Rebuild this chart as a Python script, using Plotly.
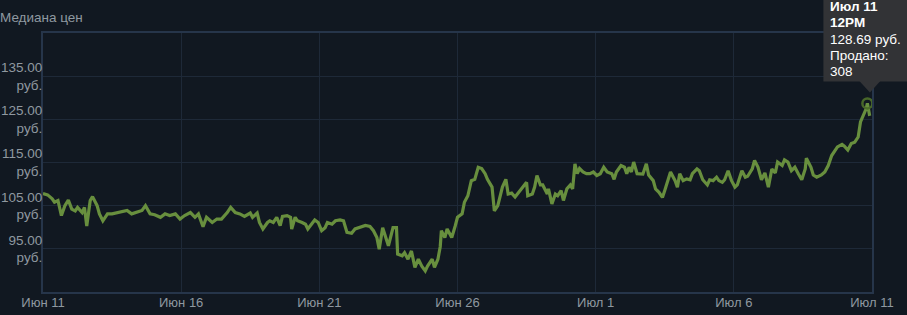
import pandas as pd
import plotly.graph_objects as go

# ---------------- data ----------------
start_time = pd.Timestamp("2023-06-11 16:00")
hours = [0, 2, 4, 8, 10, 13, 16, 19, 22, 25, 28, 30, 34, 36, 38, 41, 43, 47, 49, 52,
         56, 60, 64, 69, 73, 77, 82, 86, 89, 93, 97, 102, 106, 110, 115, 119, 123, 128, 132, 135,
         139, 142, 147, 151, 155, 160, 163, 167, 171, 175, 180, 182, 186, 188, 191, 195, 197, 200, 203, 206,
         208, 212, 215, 216, 219, 221, 225, 228, 230, 234, 236, 239, 242, 245, 247, 251, 254, 258, 261, 264,
         268, 271, 275, 280, 284, 287, 290, 292, 295, 298, 300, 304, 307, 308, 312, 314, 317, 320, 323, 326,
         329, 332, 334, 338, 340, 343, 345, 346, 349, 351, 355, 358, 360, 364, 366, 369, 372, 375, 378, 381,
         384, 386, 390, 392, 395, 399, 402, 404, 407, 410, 412, 416, 420, 421, 425, 427, 429, 432, 434, 438,
         439, 442, 445, 447, 450, 452, 455, 458, 460, 462, 464, 466, 469, 472, 475, 478, 481, 484, 487, 490,
         494, 496, 498, 502, 505, 507, 509, 511, 513, 516, 518, 521, 524, 526, 530, 532, 535, 538, 540, 544,
         545, 549, 551, 553, 556, 559, 562, 564, 568, 570, 573, 577, 579, 582, 585, 587, 590, 592, 595, 598,
         601, 603, 607, 610, 612, 616, 618, 621, 624, 627, 630, 633, 636, 638, 642, 644, 647, 650, 653, 656,
         659, 662, 663, 667, 669, 672, 676, 679, 682, 685, 688, 690, 694, 696, 699, 702, 705, 708, 710, 712,
         715, 716, 718]
prices = [107.8, 107.7, 107.5, 106.6, 105.8, 106.2, 102.7, 105.0, 106.3, 104.2, 103.8, 104.6, 103.4, 104.6, 100.3, 106.2, 107.1, 105.0, 103.1, 101.5,
          103.1, 103.1, 103.4, 103.6, 103.9, 103.1, 103.6, 103.9, 105.0, 103.1, 102.9, 102.3, 103.1, 102.7, 103.1, 101.9, 102.7, 103.4, 102.3, 103.1,
          100.1, 102.3, 101.1, 101.9, 101.9, 103.4, 104.6, 103.4, 103.1, 102.5, 103.3, 102.3, 103.3, 101.1, 99.6, 101.1, 101.5, 101.1, 102.3, 100.4,
          102.5, 102.7, 102.3, 99.6, 102.3, 101.5, 101.1, 100.7, 99.6, 101.1, 101.7, 101.1, 99.2, 99.9, 101.1, 100.7, 101.5, 101.7, 101.5, 98.8,
          98.6, 99.6, 99.9, 100.4, 100.2, 99.2, 97.6, 94.9, 99.9, 97.6, 95.7, 99.9, 99.9, 93.8, 93.4, 94.1, 92.6, 94.5, 90.7, 92.6,
          91.0, 89.9, 91.0, 92.6, 90.7, 92.6, 95.5, 99.2, 97.6, 99.6, 97.6, 100.3, 102.3, 103.1, 105.8, 107.3, 110.8, 111.1, 113.9, 113.6,
          112.4, 111.1, 109.3, 103.8, 105.0, 109.3, 111.1, 107.7, 107.9, 107.0, 107.7, 109.3, 110.4, 107.3, 107.7, 109.3, 112.0, 109.8, 109.8, 107.7,
          108.9, 105.4, 107.7, 107.3, 108.5, 106.2, 108.9, 109.8, 108.9, 114.7, 112.4, 113.6, 112.8, 112.4, 112.4, 112.8, 112.0, 112.4, 113.9, 112.8,
          112.4, 111.1, 112.8, 114.3, 113.9, 112.4, 113.9, 112.8, 115.1, 112.4, 112.4, 112.3, 114.7, 112.1, 110.8, 108.9, 108.1, 106.9, 108.5, 111.6,
          112.8, 110.8, 109.3, 112.4, 110.8, 111.2, 111.0, 112.4, 113.5, 113.1, 111.0, 109.8, 111.0, 110.8, 111.6, 110.8, 110.4, 111.0, 113.1, 110.8,
          109.3, 109.8, 113.1, 111.6, 111.8, 113.5, 115.5, 113.9, 111.0, 112.6, 109.3, 113.5, 112.6, 115.1, 114.3, 115.6, 115.1, 113.1, 113.9, 112.4,
          111.0, 113.5, 116.0, 113.9, 112.1, 111.6, 112.1, 112.8, 114.3, 116.6, 117.8, 118.6, 119.2, 118.8, 117.9, 119.4, 119.7, 120.9, 124.4, 125.6,
          127.5, 128.69, 125.8]
assert len(hours) == len(prices)

x_tick_labels = ["Июн 11", "Июн 16", "Июн 21", "Июн 26", "Июл 1", "Июл 6", "Июл 11"]
y_tick_values = [85, 95, 105, 115, 125, 135, 145]
y_tick_labels = ["", "95.00<br>руб.", "105.00<br>руб.", "115.00<br>руб.", "125.00<br>руб.", "135.00<br>руб.", ""]

hover_hour = 716
hover_price = 128.69
hover_sold = 308
hover_lines = ["<b>Июл 11</b>", "<b>12PM</b>", "128.69 руб.", "Продано:", str(hover_sold)]

chart_title = "Медиана цен"

# ---------------- derived ----------------
times = [start_time + pd.Timedelta(hours=h) for h in hours]
x_start = start_time
x_end = start_time + pd.Timedelta(days=30)
tick_vals = [start_time + pd.Timedelta(days=5 * i) for i in range(len(x_tick_labels))]
hover_time = start_time + pd.Timedelta(hours=hover_hour)
y_range = [85, 145]

BG = "#111821"
GRID = "#1e2938"
BORDER = "#26354a"
TXT = "#8f98a0"
FONT = "Arial, 'Liberation Sans', sans-serif"
LINE = "#688f3e"

fig = go.Figure()
fig.add_trace(go.Scatter(x=times, y=prices, mode="lines",
                         line=dict(color=LINE, width=3.2), hoverinfo="skip"))
fig.add_trace(go.Scatter(x=[hover_time], y=[hover_price], mode="markers",
                         marker=dict(symbol="circle-open", size=10, color="rgba(76,108,42,0.95)",
                                     line=dict(color="rgba(76,108,42,0.95)", width=2.5)),
                         hoverinfo="skip"))

fig.update_layout(
    width=907, height=315,
    margin=dict(l=43, r=35, t=33, b=23, autoexpand=False),
    paper_bgcolor=BG, plot_bgcolor=BG,
    showlegend=False, hovermode=False,
    font=dict(family=FONT, color=TXT, size=13),
)
fig.update_xaxes(type="date", range=[x_start, x_end], tickmode="array",
                 tickvals=tick_vals, ticktext=x_tick_labels, automargin=False,
                 showgrid=True, gridcolor=GRID, gridwidth=1,
                 showline=True, linecolor=BORDER, linewidth=2, mirror=True,
                 zeroline=False, ticks="", ticklabelstandoff=-3,
                 tickfont=dict(size=13, color=TXT))
fig.update_yaxes(range=y_range, tickmode="array", tickvals=y_tick_values,
                 ticktext=y_tick_labels, automargin=False,
                 showgrid=True, gridcolor=GRID, gridwidth=1,
                 showline=True, linecolor=BORDER, linewidth=2, mirror=True,
                 zeroline=False, ticks="", ticklabelstandoff=-4,
                 tickfont=dict(size=13.5, color=TXT))

# title
fig.add_annotation(xref="paper", yref="paper", x=0, y=1, xanchor="left", yanchor="middle",
                   xshift=-45, yshift=16, text=chart_title, showarrow=False,
                   font=dict(size=13.5, color=TXT, family=FONT))

# tooltip box & pointer (pixel-sized, anchored at the hovered point)
span = (x_end - x_start).total_seconds()
px = (hover_time - x_start).total_seconds() / span
py = (hover_price - y_range[0]) / (y_range[1] - y_range[0])
TIP = "#323336"
fig.add_shape(type="rect", xref="paper", yref="paper", xsizemode="pixel", ysizemode="pixel",
              xanchor=px, yanchor=py, x0=-44, x1=70, y0=22, y1=130,
              fillcolor=TIP, line=dict(width=0), layer="above")
fig.add_shape(type="path", xref="paper", yref="paper", xsizemode="pixel", ysizemode="pixel",
              xanchor=px, yanchor=py, path="M -8 22.5 L 13 22.5 L 2.5 11 Z",
              fillcolor=TIP, line=dict(width=0), layer="above")
shifts = [97, 81, 64, 48, 32]
for line_text, ys in zip(hover_lines, shifts):
    fig.add_annotation(xref="x", yref="y", x=hover_time, y=hover_price,
                       xanchor="left", yanchor="middle", xshift=-39, yshift=ys,
                       text=line_text, showarrow=False,
                       font=dict(size=13.5, color="#ffffff", family=FONT))

fig.write_html("out.html")
